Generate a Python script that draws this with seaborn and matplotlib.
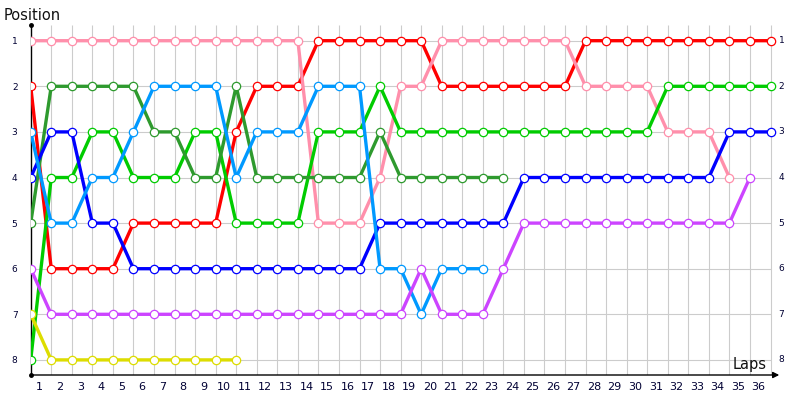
import matplotlib
matplotlib.use("Agg")
import matplotlib.pyplot as plt
import matplotlib.transforms as mtransforms
import seaborn as sns
import pandas as pd

# ---- data: position at each lap (lap 0 = start) ----
red    = [2,6,6,6,6,5,5,5,5,5,3,2,2,2,1,1,1,1,1,1,2,2,2,2,2,2,2,1,1,1,1,1,1,1,1,1,1]
pink   = [1,1,1,1,1,1,1,1,1,1,1,1,1,1,5,5,5,4,2,2,1,1,1,1,1,1,1,2,2,2,2,3,3,3,4]
lgreen = [8,4,4,3,3,4,4,4,3,3,5,5,5,5,3,3,3,2,3,3,3,3,3,3,3,3,3,3,3,3,3,2,2,2,2,2,2]
dgreen = [5,2,2,2,2,2,3,3,4,4,2,4,4,4,4,4,4,3,4,4,4,4,4,4]
blue   = [4,3,3,5,5,6,6,6,6,6,6,6,6,6,6,6,6,5,5,5,5,5,5,5,4,4,4,4,4,4,4,4,4,4,3,3,3]
lblue  = [3,5,5,4,4,3,2,2,2,2,4,3,3,3,2,2,2,6,6,7,6,6,6]
purple = [6,7,7,7,7,7,7,7,7,7,7,7,7,7,7,7,7,7,7,6,7,7,7,6,5,5,5,5,5,5,5,5,5,5,5,4]
yellow = [7,8,8,8,8,8,8,8,8,8,8]

series_names  = ["red", "pink", "lgreen", "dgreen", "blue", "lblue", "purple", "yellow"]
series_values = [red, pink, lgreen, dgreen, blue, lblue, purple, yellow]
series_colors = ["#FF0000", "#FF8FAB", "#00CC00", "#2E9A2E", "#0000FF", "#0099FF", "#CC44FF", "#DDDD00"]

laps = list(range(1, 37))
positions = list(range(1, 9))

rows = []
for name, vals in zip(series_names, series_values):
    for lap, p in enumerate(vals):
        rows.append({"driver": name, "lap": lap, "pos": p})
df = pd.DataFrame(rows)

plt.rcParams["font.family"] = ["DejaVu Sans"]

fig = plt.figure(figsize=(8, 4), dpi=100)
px_lap0, px_step = 30.7, 20.55
px_right = 777.0
px_top, px_bot = 25.0, 375.0
py_pos1, py_step = 40.7, 45.6

ax = fig.add_axes([px_lap0 / 800, 1 - px_bot / 400, (px_right - px_lap0) / 800, (px_bot - px_top) / 400])
xmax = (px_right - px_lap0) / px_step
ytop = 1 - (py_pos1 - px_top) / py_step
ybot = 8 + (px_bot - (py_pos1 + 7 * py_step)) / py_step
ax.set_xlim(0, xmax)
ax.set_ylim(ybot, ytop)

# grid
ax.vlines(laps, ybot, ytop, color="#CCCCCC", lw=0.8, zorder=0)
ax.hlines(positions, 0, 36, color="#CCCCCC", lw=0.8, zorder=0)

for name, color in zip(series_names, series_colors):
    sub = df[df["driver"] == name]
    sns.lineplot(data=sub, x="lap", y="pos", color=color, lw=2.4, marker="o",
                 markersize=6, markerfacecolor="white", markeredgecolor=color,
                 markeredgewidth=0.9, ax=ax, zorder=3, legend=False)

ax.set_xlabel("")
ax.set_ylabel("")

for s in ["top", "right"]:
    ax.spines[s].set_visible(False)
ax.spines["bottom"].set_visible(False)
ax.spines["left"].set_linewidth(1.0)
ax.spines["left"].set_color("black")

# x axis with arrow
ax.annotate("", xy=(1.003, 0), xycoords="axes fraction", xytext=(0, 0),
            textcoords="axes fraction",
            arrowprops=dict(arrowstyle="-|>", color="black", lw=1.0,
                            mutation_scale=9, shrinkA=0, shrinkB=0))
ax.plot([0, 0], [ytop, ybot], "o", color="black", markersize=2.5, clip_on=False, zorder=5)

# ticks
ax.set_xticks([k - 0.58 for k in laps])
ax.set_xticklabels([str(k) for k in laps], fontsize=8, color="#000033")
ax.tick_params(axis="x", length=0, pad=5)
ax.set_yticks(positions)
ax.set_yticklabels([str(p) for p in positions], fontsize=6.5, color="#000033")
ax.tick_params(axis="y", length=0, pad=9.5)

trans = mtransforms.blended_transform_factory(ax.transAxes, ax.transData)
for p in positions:
    ax.text(1.002, p, str(p), transform=trans, fontsize=6.5, color="#000033",
            ha="left", va="center")

fig.text(4 / 800, 1 - 15 / 400, "Position", fontsize=10.5, ha="left", va="center", color="#111111")
fig.text(767 / 800, 1 - 364 / 400, "Laps", fontsize=10.5, ha="right", va="center", color="#111111")

fig.savefig("out.png", dpi=100)
